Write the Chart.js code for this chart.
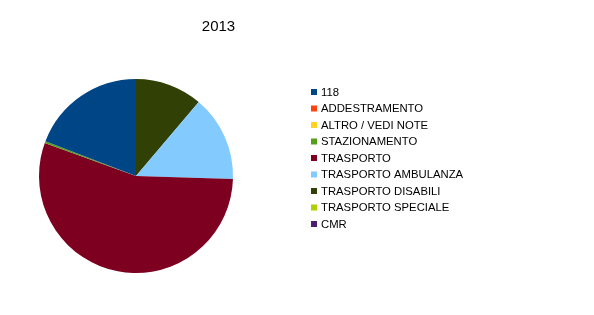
<!DOCTYPE html>
<html>
<head>
<meta charset="utf-8">
<script src="https://cdn.jsdelivr.net/npm/chart.js@4/dist/chart.umd.min.js"></script>
<style>
  html, body { margin: 0; padding: 0; background: #ffffff; }
  #wrap { position: relative; width: 594px; height: 315px; }
</style>
</head>
<body>
<div id="wrap"><canvas id="c" width="594" height="315"></canvas></div>
<script>
const chartTitle = "2013";
const categories = ["118", "ADDESTRAMENTO", "ALTRO / VEDI NOTE", "STAZIONAMENTO", "TRASPORTO",
  "TRASPORTO AMBULANZA", "TRASPORTO DISABILI", "TRASPORTO SPECIALE", "CMR"];
const values = [192, 0, 0, 3, 551, 143, 112, 0, 0];
const colors = ["#004586", "#ff420e", "#ffd320", "#579d1c", "#7e0021",
  "#83caff", "#314004", "#aecf00", "#4b1f6f"];

// LibreOffice draws slices counter-clockwise; Chart.js clockwise -> reverse order for drawing
const revLabels = categories.slice().reverse();
const revValues = values.slice().reverse();
const revColors = colors.slice().reverse();

const FONT = "'Liberation Sans', Arial, sans-serif";

const customDecor = {
  id: 'customDecor',
  afterDraw(chart) {
    const ctx = chart.ctx;
    ctx.save();
    // title
    ctx.fillStyle = '#000000';
    ctx.font = "15px " + FONT;
    ctx.textAlign = 'center';
    ctx.textBaseline = 'middle';
    ctx.fillText(chartTitle, 218.5, 27);
    // legend
    ctx.font = "11.3px " + FONT;
    ctx.textAlign = 'left';
    const x0 = 311, y0 = 92, step = 16.5;
    categories.forEach((name, i) => {
      const y = y0 + i * step;
      ctx.fillStyle = colors[i];
      ctx.fillRect(x0, y - 3, 6, 6);
      ctx.fillStyle = '#000000';
      ctx.fillText(name, x0 + 10, y + 0.5);
    });
    ctx.restore();
  }
};

new Chart(document.getElementById('c'), {
  type: 'pie',
  data: {
    labels: revLabels,
    datasets: [{
      data: revValues,
      backgroundColor: revColors,
      borderWidth: 0,
      hoverOffset: 0
    }]
  },
  options: {
    responsive: false,
    animation: false,
    devicePixelRatio: 1,
    layout: { padding: { left: 39, top: 79, right: 361, bottom: 42 } },
    plugins: {
      legend: { display: false },
      title: { display: false },
      tooltip: { enabled: false }
    }
  },
  plugins: [customDecor]
});
</script>
</body>
</html>
